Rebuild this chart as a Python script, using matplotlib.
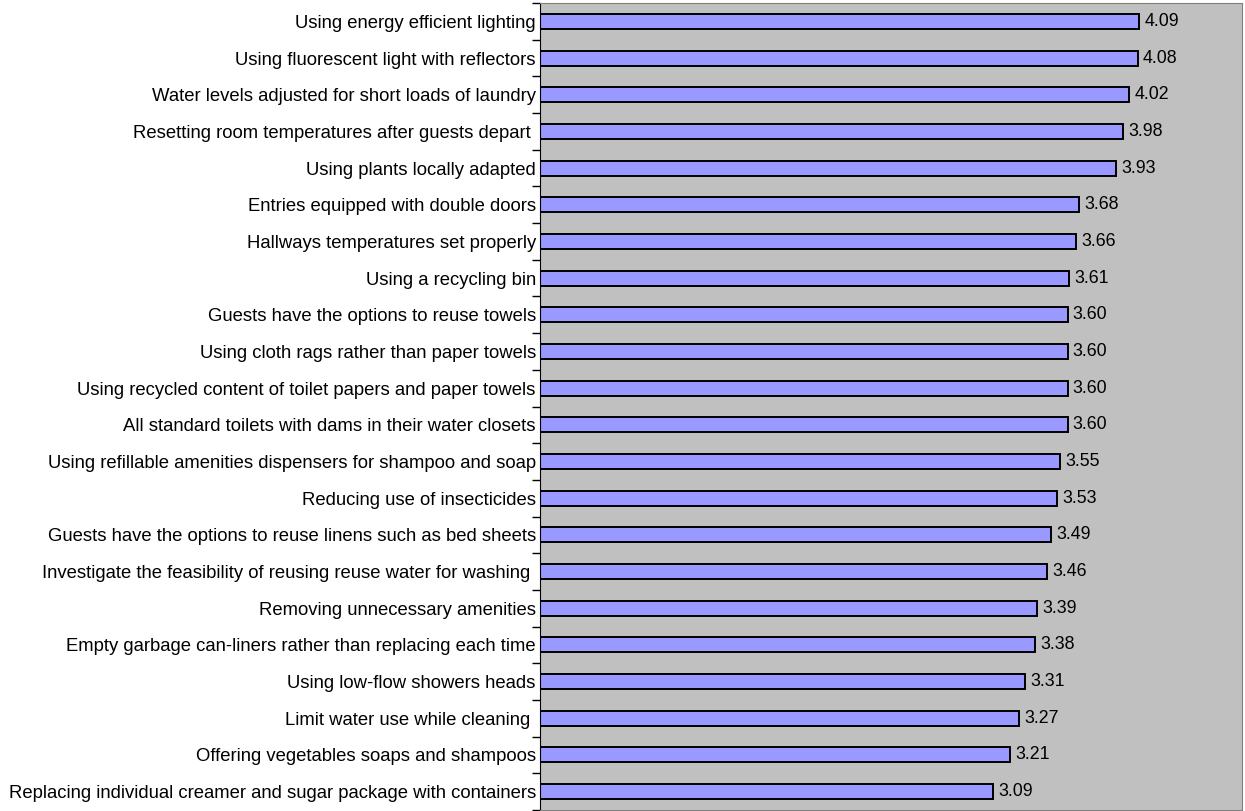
import matplotlib.pyplot as plt
import numpy as np

plt.rcParams['font.family'] = ['Liberation Sans', 'DejaVu Sans']

# Practices, listed top to bottom, with their mean scores
practices = [
    'Using energy efficient lighting',
    'Using fluorescent light with reflectors',
    'Water levels adjusted for short loads of laundry',
    'Resetting room temperatures after guests depart ',
    'Using plants locally adapted',
    'Entries equipped with double doors',
    'Hallways temperatures set properly',
    'Using a recycling bin',
    'Guests have the options to reuse towels',
    'Using cloth rags rather than paper towels',
    'Using recycled content of toilet papers and paper towels',
    'All standard toilets with dams in their water closets',
    'Using refillable amenities dispensers for shampoo and soap',
    'Reducing use of insecticides',
    'Guests have the options to reuse linens such as bed sheets',
    'Investigate the feasibility of reusing reuse water for washing ',
    'Removing unnecessary amenities',
    'Empty garbage can-liners rather than replacing each time',
    'Using low-flow showers heads',
    'Limit water use while cleaning ',
    'Offering vegetables soaps and shampoos',
    'Replacing individual creamer and sugar package with containers',
]
scores = [4.09, 4.08, 4.02, 3.98, 3.93, 3.68, 3.66, 3.61, 3.60, 3.60, 3.60,
          3.60, 3.55, 3.53, 3.49, 3.46, 3.39, 3.38, 3.31, 3.27, 3.21, 3.09]

fig = plt.figure(figsize=(12.45, 8.11), dpi=100)
ax = fig.add_axes([540 / 1245, 1 / 811, 702 / 1245, 807 / 811])
ax.set_facecolor('#c0c0c0')

y = np.arange(len(practices))
ax.barh(y, scores, height=0.41, color='#9999ff', edgecolor='black', linewidth=1.4)
for yi, v in zip(y, scores):
    ax.text(v + 0.035, yi, f'{v:.2f}', va='center', ha='left', fontsize=12.8)

ax.set_xlim(0, 4.79)
ax.set_ylim(len(practices) - 0.5, -0.5)
ax.set_yticks(y)
ax.set_yticklabels(practices, fontsize=13.3)
ax.tick_params(axis='y', which='major', length=0, pad=3)
ax.set_yticks(np.arange(-0.5, len(practices), 1), minor=True)
ax.tick_params(axis='y', which='minor', length=6, width=1)
ax.set_xticks([])

for side in ['top', 'right', 'bottom']:
    ax.spines[side].set_color('#808080')
ax.spines['left'].set_color('black')

fig.savefig('out.png', dpi=100)
